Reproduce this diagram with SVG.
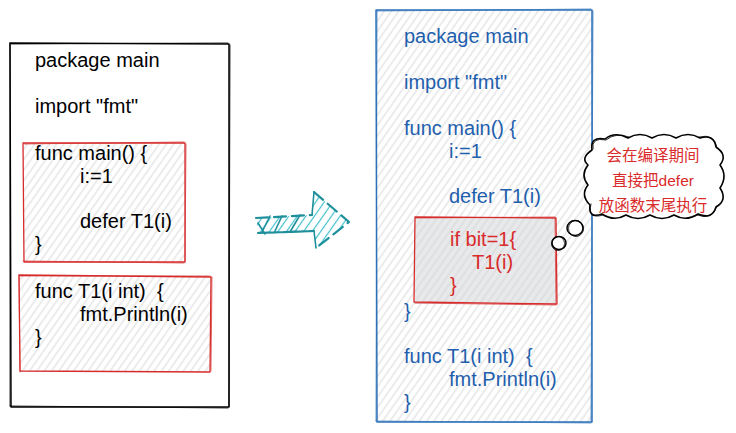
<svg xmlns="http://www.w3.org/2000/svg" width="736" height="433" viewBox="0 0 736 433">
<defs>
<pattern id="hatch" width="6" height="6" patternUnits="userSpaceOnUse" patternTransform="rotate(-55)">
<line x1="0" y1="3" x2="6" y2="3" stroke="#d4d4d4" stroke-width="0.9"/>
</pattern>
<pattern id="hatchTeal" width="7" height="7" patternUnits="userSpaceOnUse" patternTransform="rotate(-55)">
<line x1="0" y1="3.5" x2="7" y2="3.5" stroke="#3fbfcc" stroke-width="1.2"/>
</pattern>
</defs>
<style>
.code{font-family:"Liberation Sans",Arial,sans-serif;font-size:20px;white-space:pre}
.blk{fill:#000}
.blu{fill:#1f5fad}
.red{fill:#d92b2b}
.cjk{font-family:"Liberation Sans","Noto Sans CJK SC",sans-serif;font-size:15.5px;fill:#d92b2b}
.sk{fill:none;stroke-linecap:round;stroke-linejoin:round}
</style>
<rect width="736" height="433" fill="#fff"/>

<g id="left-file">
<rect x="10" y="43" width="219" height="364" fill="#fff"/>
<path class="sk" d="M10,43 L229,44 L229,407 L11,407 Z" stroke="#000" stroke-width="1.5"/>
<path class="sk" d="M11,44 L228,43 M230,45 L229,406 M10,406 L228,408 M10,43 L10,406" stroke="#000" stroke-width="0.8"/>
<text class="code blk" x="35" y="67">package main</text>
<text class="code blk" x="35" y="113">import "fmt"</text>
</g>

<g id="left-main">
<rect x="23" y="143" width="162" height="119" fill="url(#hatch)"/>
<path class="sk" d="M23,143 L185,143 L185,262 L24,262 Z" stroke="#d62c2c" stroke-width="1.3"/>
<path class="sk" d="M24,144 L184,142 M186,144 L185,261 M23,261 L184,263" stroke="#d62c2c" stroke-width="0.7"/>
<text class="code blk" x="35" y="160">func main() {</text>
<text class="code blk" x="80" y="183">i:=1</text>
<text class="code blk" x="80" y="228">defer T1(i)</text>
<text class="code blk" x="35" y="251">}</text>
</g>

<g id="left-t1">
<rect x="19" y="275" width="192" height="97" fill="url(#hatch)"/>
<path class="sk" d="M19,275 L211,277 L210,372 L20,371 Z" stroke="#d62c2c" stroke-width="1.3"/>
<path class="sk" d="M20,276 L210,276 M212,277 L211,371 M19,275 L20,372" stroke="#d62c2c" stroke-width="0.7"/>
<text class="code blk" x="35" y="298" xml:space="preserve">func T1(i int)  {</text>
<text class="code blk" x="80" y="321">fmt.Println(i)</text>
<text class="code blk" x="35" y="344">}</text>
</g>

<g id="connectors">
<path d="M256,218 L312,215 L314,192 L349,222 L316,248 L314,231 L258,233 Z" fill="url(#hatchTeal)"/>
<path class="sk" d="M256,218 L312,215 M314,192 L349,222 L316,248 M314,231 L258,233 Z" stroke="#1f8f9c" stroke-width="2.2" stroke-dasharray="12 6"/>
<path class="sk" d="M258,223 L265,234 M270,216 L262,232 M282,216 L275,231 M300,215 L290,232 M312,215 L314,192 M316,248 L314,231" stroke="#1f8f9c" stroke-width="1.6"/>
</g>

<g id="right-file">
<rect x="376" y="10" width="216" height="412" fill="#fff"/>
<rect x="376" y="10" width="216" height="412" fill="url(#hatch)"/>
<path class="sk" d="M376,10 L592,10 L592,422 L377,422 Z" stroke="#2d71b8" stroke-width="1.5"/>
<path class="sk" d="M377,11 L591,9 M593,11 L591,421 M376,421 L591,423 M377,11 L376,421" stroke="#2d71b8" stroke-width="0.7"/>
<text class="code blu" x="404" y="43">package main</text>
<text class="code blu" x="404" y="89">import "fmt"</text>
<text class="code blu" x="404" y="135">func main() {</text>
<text class="code blu" x="449" y="158">i:=1</text>
<text class="code blu" x="449" y="203">defer T1(i)</text>
<text class="code blu" x="404" y="318">}</text>
<text class="code blu" x="404" y="363" xml:space="preserve">func T1(i int)  {</text>
<text class="code blu" x="449" y="386">fmt.Println(i)</text>
<text class="code blu" x="404" y="409">}</text>
</g>

<g id="right-if">
<rect x="415" y="217" width="141" height="87" fill="#e8e9eb"/>
<rect x="415" y="217" width="141" height="87" fill="url(#hatch)"/>
<path class="sk" d="M415,217 L556,218 L557,304 L414,302 Z" stroke="#d62c2c" stroke-width="1.3"/>
<path class="sk" d="M416,218 L555,217 M555,219 L556,303 M415,303 L556,305" stroke="#d62c2c" stroke-width="0.7"/>
<text class="code red" x="450" y="246">if bit=1{</text>
<text class="code red" x="472" y="269">T1(i)</text>
<text class="code red" x="450" y="292">}</text>
</g>

<g id="callout">
<path d="M592,150 Q590,136 605,139 Q615,131 628,138 Q640,131 652,138 Q664,131 676,138 Q688,131 700,138 Q714,134 716,147 Q728,155 720,165 Q728,176 720,188 Q728,200 716,207 Q712,220 698,214 Q686,222 674,215 Q662,222 650,215 Q638,222 626,215 Q614,222 602,214 Q588,219 590,205 Q580,195 588,185 Q580,175 588,165 Q580,158 592,150 Z" fill="#fff" stroke="#000" stroke-width="1.6" stroke-linejoin="round"/>
<path class="sk" d="M593,149 Q591,137 606,140 Q616,132 629,137 M699,137 Q715,133 717,148 M717,206 Q713,221 697,215 M603,215 Q587,220 591,204" stroke="#000" stroke-width="0.8"/>
<ellipse cx="559" cy="243" rx="7" ry="6.5" fill="#fff" stroke="#000" stroke-width="1.5"/>
<ellipse cx="558" cy="243.5" rx="6.5" ry="7" fill="none" stroke="#000" stroke-width="0.8"/>
<ellipse cx="575" cy="228" rx="8" ry="7.5" fill="#fff" stroke="#000" stroke-width="1.5"/>
<ellipse cx="576" cy="228.5" rx="7.5" ry="8" fill="none" stroke="#000" stroke-width="0.8"/>
<text class="cjk" x="653" y="161" text-anchor="middle">会在编译期间</text>
<text class="cjk" x="653" y="186" text-anchor="middle">直接把defer</text>
<text class="cjk" x="653" y="211" text-anchor="middle">放函数末尾执行</text>
</g>
</svg>
